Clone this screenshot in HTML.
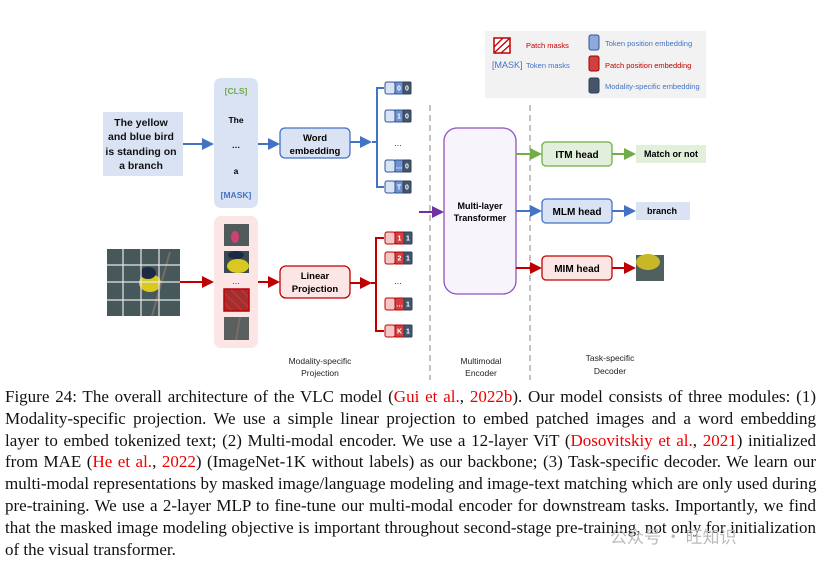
<!DOCTYPE html>
<html><head><meta charset="utf-8"><style>
html,body{margin:0;padding:0;background:#fff;width:827px;height:563px;overflow:hidden;position:relative}
svg{position:absolute;left:0;top:0}
.cap{position:absolute;left:5px;top:386px;width:811px;font-family:"Liberation Serif",serif;font-size:17px;line-height:21.8px;color:#111}
.cap div{text-align:justify;text-align-last:justify;white-space:nowrap;height:21.8px}
.cap div.l{text-align-last:left}
.cap span{color:#e00}
.wm{position:absolute;left:610px;top:523px;font-family:"Noto Sans CJK SC",sans-serif;font-size:17px;color:#bbb}
</style></head><body>
<svg width="827" height="380" viewBox="0 0 827 380" font-family="Liberation Sans, sans-serif">
<defs>
<marker id="ab" markerWidth="6" markerHeight="6" refX="5" refY="3" orient="auto"><path d="M0,0 L6,3 L0,6z" fill="#4472c4"/></marker>
<marker id="ar" markerWidth="6" markerHeight="6" refX="5" refY="3" orient="auto"><path d="M0,0 L6,3 L0,6z" fill="#c00000"/></marker>
<marker id="ag" markerWidth="6" markerHeight="6" refX="5" refY="3" orient="auto"><path d="M0,0 L6,3 L0,6z" fill="#70ad47"/></marker>
<marker id="ap" markerWidth="6" markerHeight="6" refX="5" refY="3" orient="auto"><path d="M0,0 L6,3 L0,6z" fill="#7030a0"/></marker>
<pattern id="hatch" width="7" height="7" patternUnits="userSpaceOnUse" patternTransform="rotate(-45)"><rect width="7" height="7" fill="#a03030"/><line x1="0" y1="0" x2="0" y2="7" stroke="#e03030" stroke-width="2"/></pattern>
</defs>
<rect x="485" y="31" width="221" height="67" fill="#f2f2f2"/>
<rect x="494" y="38" width="16" height="15" fill="#fff" stroke="#c00000" stroke-width="1.5"/>
<path d="M494,47 L503,38 M494,53 L510,38 M501,53 L510,45" stroke="#c00000" stroke-width="1.3"/>
<text x="526" y="48" font-size="7.5" fill="#c00000">Patch masks</text>
<text x="492" y="68" font-size="9" fill="#4472c4">[MASK]</text>
<text x="526" y="68" font-size="7.5" fill="#4472c4">Token masks</text>
<rect x="589" y="35" width="10" height="15" rx="2" fill="#8eaadb" stroke="#2f5597"/>
<text x="605" y="46" font-size="7.5" fill="#4472c4">Token position embedding</text>
<rect x="589" y="56" width="10" height="15" rx="2" fill="#d04040" stroke="#a00000"/>
<text x="605" y="68" font-size="7.5" fill="#c00000">Patch position embedding</text>
<rect x="589" y="78" width="10" height="15" rx="2" fill="#44546a" stroke="#2f3f55"/>
<text x="605" y="89" font-size="7.5" fill="#4472c4">Modality-specific embedding</text>
<rect x="103" y="112" width="80" height="64" fill="#dae3f3"/>
<g font-size="10.5" font-weight="bold" text-anchor="middle" fill="#111">
<text x="141" y="126">The yellow</text><text x="141" y="140">and blue bird</text><text x="141" y="155">is standing on</text><text x="141" y="169">a branch</text></g>
<line x1="183" y1="144" x2="212" y2="144" stroke="#4472c4" stroke-width="2" marker-end="url(#ab)"/>
<rect x="214" y="78" width="44" height="130" rx="7" fill="#dae3f3"/>
<g font-size="8.5" font-weight="bold" text-anchor="middle">
<text x="236" y="94" fill="#70ad47">[CLS]</text><text x="236" y="123">The</text><text x="236" y="148">…</text><text x="236" y="174">a</text><text x="236" y="198" fill="#4472c4">[MASK]</text></g>
<line x1="258" y1="144" x2="278" y2="144" stroke="#4472c4" stroke-width="2" marker-end="url(#ab)"/>
<rect x="280" y="128" width="70" height="30" rx="5" fill="#dae3f3" stroke="#4472c4" stroke-width="1.3"/>
<text x="315" y="141" font-size="9.5" font-weight="bold" text-anchor="middle">Word</text>
<text x="315" y="154" font-size="9.5" font-weight="bold" text-anchor="middle">embedding</text>
<line x1="350" y1="142" x2="370" y2="142" stroke="#4472c4" stroke-width="2" marker-end="url(#ab)"/>
<path d="M384,88 H377 V187 H384 M372,142 H377" fill="none" stroke="#4472c4" stroke-width="2"/>
<text x="398" y="146" font-size="8" text-anchor="middle">…</text>
<g font-size="7" font-weight="bold" text-anchor="middle" fill="#fff">
<g transform="translate(0,88)"><rect x="385" y="-6" width="10" height="12" rx="2" fill="#dae3f3" stroke="#2f5597"/><rect x="395" y="-6" width="8" height="12" fill="#6f93d0" stroke="#2f5597"/><rect x="403" y="-6" width="8" height="12" rx="1" fill="#44546a" stroke="#2f3f55"/><text x="399" y="2.5">0</text><text x="407" y="2.5">0</text></g>
<g transform="translate(0,116)"><rect x="385" y="-6" width="10" height="12" rx="2" fill="#dae3f3" stroke="#2f5597"/><rect x="395" y="-6" width="8" height="12" fill="#6f93d0" stroke="#2f5597"/><rect x="403" y="-6" width="8" height="12" rx="1" fill="#44546a" stroke="#2f3f55"/><text x="399" y="2.5">1</text><text x="407" y="2.5">0</text></g>
<g transform="translate(0,166)"><rect x="385" y="-6" width="10" height="12" rx="2" fill="#dae3f3" stroke="#2f5597"/><rect x="395" y="-6" width="8" height="12" fill="#6f93d0" stroke="#2f5597"/><rect x="403" y="-6" width="8" height="12" rx="1" fill="#44546a" stroke="#2f3f55"/><text x="399" y="2.5">…</text><text x="407" y="2.5">0</text></g>
<g transform="translate(0,187)"><rect x="385" y="-6" width="10" height="12" rx="2" fill="#dae3f3" stroke="#2f5597"/><rect x="395" y="-6" width="8" height="12" fill="#6f93d0" stroke="#2f5597"/><rect x="403" y="-6" width="8" height="12" rx="1" fill="#44546a" stroke="#2f3f55"/><text x="399" y="2.5">T</text><text x="407" y="2.5">0</text></g>
</g>
<rect x="107" y="249" width="73" height="67" fill="#46585a"/>
<ellipse cx="150" cy="283" rx="11" ry="9" fill="#d8c820"/>
<ellipse cx="148" cy="273" rx="8" ry="6" fill="#1c2a44"/>
<line x1="170" y1="252" x2="152" y2="316" stroke="#7a6a6a" stroke-width="2"/>
<g stroke="#e8e8e8" stroke-width="1.2"><line x1="107" y1="265" x2="180" y2="265"/><line x1="107" y1="282" x2="180" y2="282"/><line x1="107" y1="300" x2="180" y2="300"/><line x1="123" y1="249" x2="123" y2="316"/><line x1="141" y1="249" x2="141" y2="316"/><line x1="159" y1="249" x2="159" y2="316"/></g>
<line x1="180" y1="282" x2="212" y2="282" stroke="#c00000" stroke-width="2" marker-end="url(#ar)"/>
<rect x="214" y="216" width="44" height="132" rx="7" fill="#fbe5e5"/>
<rect x="224" y="224" width="25" height="22" fill="#505a5a"/><ellipse cx="235" cy="237" rx="4" ry="6" fill="#d04070"/>
<rect x="224" y="251" width="25" height="22" fill="#3a4a50"/><ellipse cx="238" cy="266" rx="11" ry="7" fill="#d8c820"/><ellipse cx="236" cy="255" rx="8" ry="4" fill="#1c2a44"/>
<text x="236" y="284" font-size="8" text-anchor="middle">…</text>
<rect x="224" y="289" width="25" height="22" fill="url(#hatch)" stroke="#c00000" stroke-width="1.5"/>
<rect x="224" y="317" width="25" height="23" fill="#5a6060"/><line x1="240" y1="317" x2="236" y2="340" stroke="#7a6a6a" stroke-width="2"/>
<line x1="258" y1="282" x2="278" y2="282" stroke="#c00000" stroke-width="2" marker-end="url(#ar)"/>
<rect x="280" y="266" width="70" height="32" rx="6" fill="#fbe5e5" stroke="#c00000" stroke-width="1.3"/>
<text x="315" y="279" font-size="9.5" font-weight="bold" text-anchor="middle">Linear</text>
<text x="315" y="292" font-size="9.5" font-weight="bold" text-anchor="middle">Projection</text>
<line x1="350" y1="283" x2="370" y2="283" stroke="#c00000" stroke-width="2" marker-end="url(#ar)"/>
<path d="M384,238 H376 V331 H384 M371,283 H376" fill="none" stroke="#c00000" stroke-width="2"/>
<text x="398" y="284" font-size="8" text-anchor="middle">…</text>
<g font-size="7" font-weight="bold" text-anchor="middle" fill="#fff">
<g transform="translate(0,238)"><rect x="385" y="-6" width="10" height="12" rx="2" fill="#f4c7c7" stroke="#c00000"/><rect x="395" y="-6" width="9" height="12" fill="#d04040" stroke="#c00000"/><rect x="404" y="-6" width="8" height="12" rx="1" fill="#44546a" stroke="#2f3f55"/><text x="399.5" y="2.5">1</text><text x="408" y="2.5">1</text></g>
<g transform="translate(0,258)"><rect x="385" y="-6" width="10" height="12" rx="2" fill="#f4c7c7" stroke="#c00000"/><rect x="395" y="-6" width="9" height="12" fill="#d04040" stroke="#c00000"/><rect x="404" y="-6" width="8" height="12" rx="1" fill="#44546a" stroke="#2f3f55"/><text x="399.5" y="2.5">2</text><text x="408" y="2.5">1</text></g>
<g transform="translate(0,304)"><rect x="385" y="-6" width="10" height="12" rx="2" fill="#f4c7c7" stroke="#c00000"/><rect x="395" y="-6" width="9" height="12" fill="#d04040" stroke="#c00000"/><rect x="404" y="-6" width="8" height="12" rx="1" fill="#44546a" stroke="#2f3f55"/><text x="399.5" y="2.5">…</text><text x="408" y="2.5">1</text></g>
<g transform="translate(0,331)"><rect x="385" y="-6" width="10" height="12" rx="2" fill="#f4c7c7" stroke="#c00000"/><rect x="395" y="-6" width="9" height="12" fill="#d04040" stroke="#c00000"/><rect x="404" y="-6" width="8" height="12" rx="1" fill="#44546a" stroke="#2f3f55"/><text x="399.5" y="2.5">K</text><text x="408" y="2.5">1</text></g>
</g>
<line x1="430" y1="105" x2="430" y2="380" stroke="#999" stroke-width="1.2" stroke-dasharray="6,4"/>
<line x1="530" y1="105" x2="530" y2="380" stroke="#999" stroke-width="1.2" stroke-dasharray="6,4"/>
<line x1="419" y1="212" x2="442" y2="212" stroke="#7030a0" stroke-width="2" marker-end="url(#ap)"/>
<rect x="444" y="128" width="72" height="166" rx="13" fill="#f8f4fc" stroke="#9050c0" stroke-width="1.3"/>
<text x="480" y="209" font-size="9" font-weight="bold" text-anchor="middle">Multi-layer</text>
<text x="480" y="221" font-size="9" font-weight="bold" text-anchor="middle">Transformer</text>
<line x1="516" y1="154" x2="540" y2="154" stroke="#70ad47" stroke-width="2" marker-end="url(#ag)"/>
<rect x="542" y="142" width="70" height="24" rx="4" fill="#e2efda" stroke="#70ad47" stroke-width="1.3"/>
<text x="577" y="158" font-size="10" font-weight="bold" text-anchor="middle">ITM head</text>
<line x1="612" y1="154" x2="634" y2="154" stroke="#70ad47" stroke-width="2" marker-end="url(#ag)"/>
<rect x="636" y="145" width="70" height="18" fill="#e2efda"/>
<text x="671" y="157" font-size="9" font-weight="bold" text-anchor="middle">Match or not</text>
<line x1="516" y1="211" x2="540" y2="211" stroke="#4472c4" stroke-width="2" marker-end="url(#ab)"/>
<rect x="542" y="199" width="70" height="24" rx="4" fill="#dae3f3" stroke="#4472c4" stroke-width="1.3"/>
<text x="577" y="215" font-size="10" font-weight="bold" text-anchor="middle">MLM head</text>
<line x1="612" y1="211" x2="634" y2="211" stroke="#4472c4" stroke-width="2" marker-end="url(#ab)"/>
<rect x="636" y="202" width="54" height="18" fill="#dae3f3"/>
<text x="662" y="214" font-size="9" font-weight="bold" text-anchor="middle">branch</text>
<line x1="516" y1="268" x2="540" y2="268" stroke="#c00000" stroke-width="2" marker-end="url(#ar)"/>
<rect x="542" y="256" width="70" height="24" rx="4" fill="#fbe5e5" stroke="#c00000" stroke-width="1.3"/>
<text x="577" y="272" font-size="10" font-weight="bold" text-anchor="middle">MIM head</text>
<line x1="612" y1="268" x2="634" y2="268" stroke="#c00000" stroke-width="2" marker-end="url(#ar)"/>
<rect x="636" y="255" width="28" height="26" fill="#50605e"/><ellipse cx="648" cy="262" rx="12" ry="8" fill="#c8b828"/>
<g font-size="8.5" text-anchor="middle" fill="#222">
<text x="320" y="364">Modality-specific</text><text x="320" y="376">Projection</text>
<text x="481" y="364">Multimodal</text><text x="481" y="376">Encoder</text>
<text x="610" y="361">Task-specific</text><text x="610" y="374">Decoder</text></g>
</svg>
<div class="cap">
<div>Figure 24: The overall architecture of the VLC model (<span>Gui et al.</span>, <span>2022b</span>). Our model consists of three modules: (1)</div>
<div>Modality-specific projection. We use a simple linear projection to embed patched images and a word embedding</div>
<div>layer to embed tokenized text; (2) Multi-modal encoder. We use a 12-layer ViT (<span>Dosovitskiy et al.</span>, <span>2021</span>) initialized</div>
<div>from MAE (<span>He et al.</span>, <span>2022</span>) (ImageNet-1K without labels) as our backbone; (3) Task-specific decoder. We learn our</div>
<div>multi-modal representations by masked image/language modeling and image-text matching which are only used during</div>
<div>pre-training. We use a 2-layer MLP to fine-tune our multi-modal encoder for downstream tasks. Importantly, we find</div>
<div>that the masked image modeling objective is important throughout second-stage pre-training, not only for initialization</div>
<div class="l">of the visual transformer.</div>
</div>
<div class="wm">公众号 · 旺知识</div>
</body></html>
